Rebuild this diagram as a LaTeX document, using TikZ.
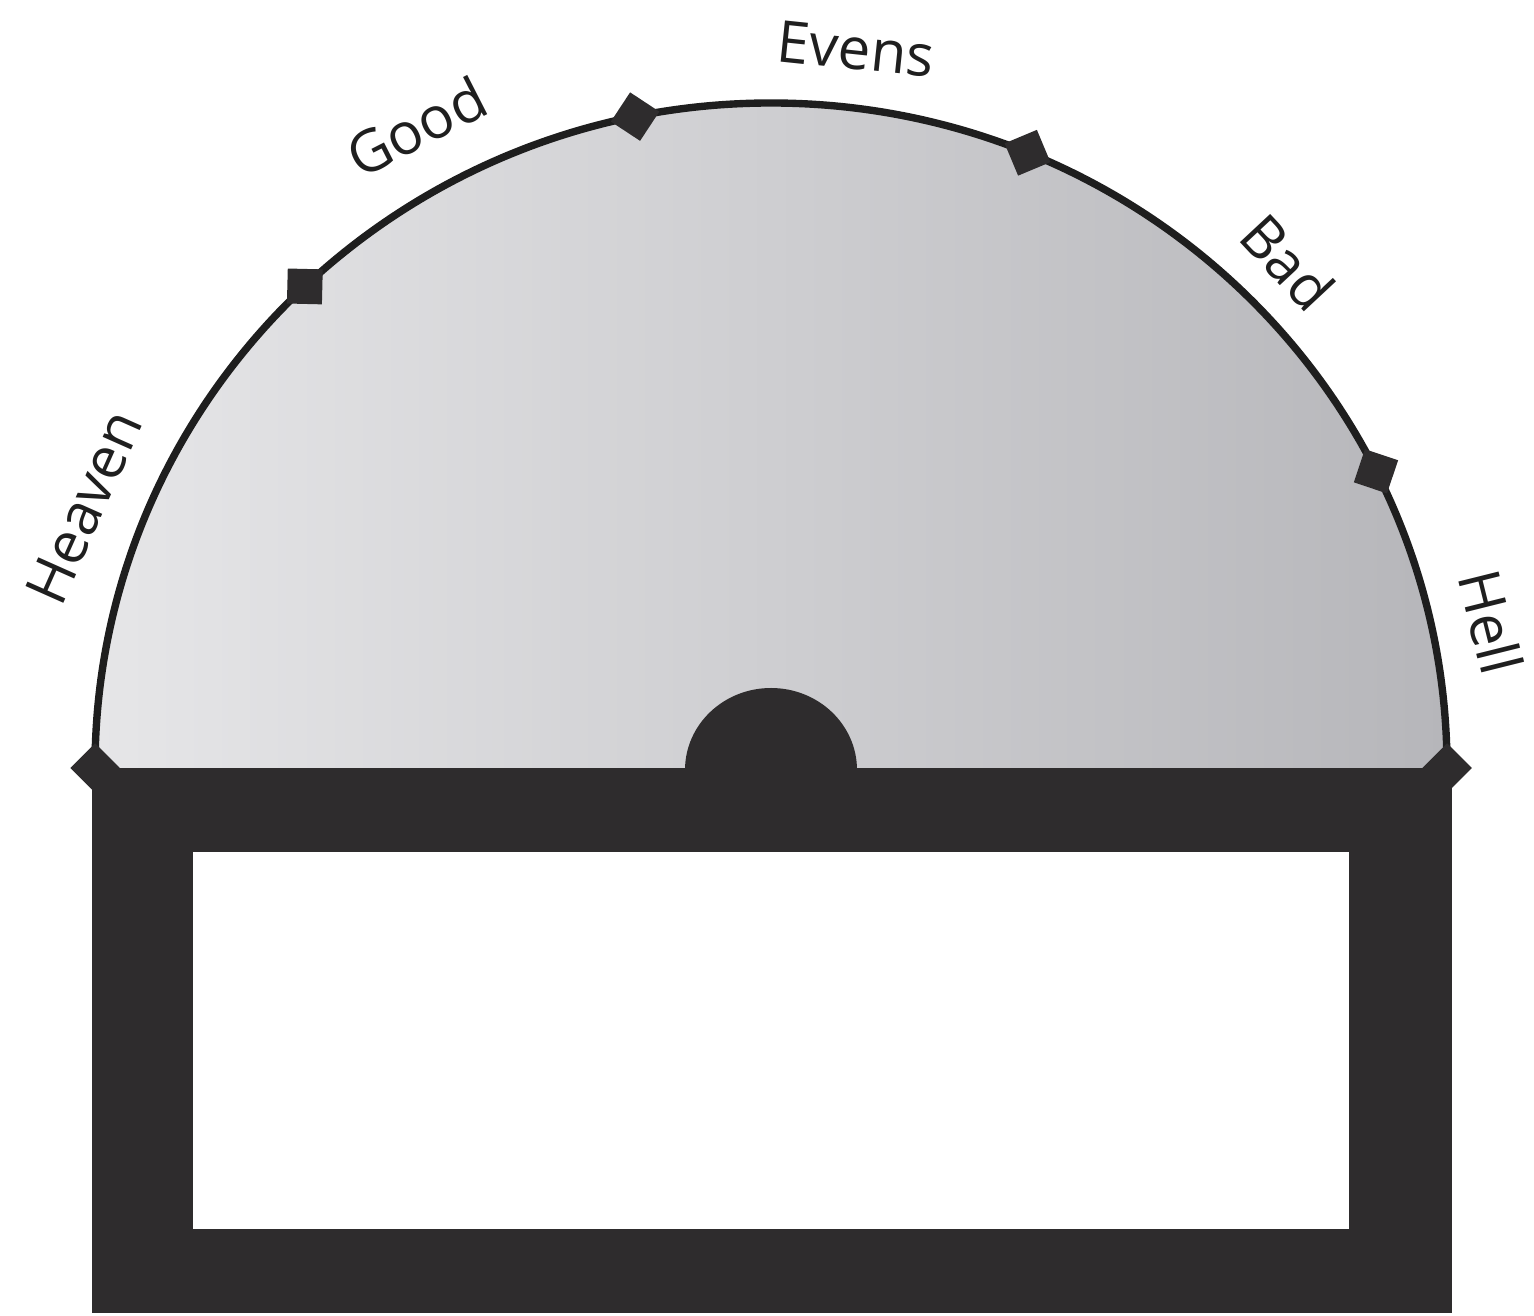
\documentclass[tikz,border=0pt]{standalone}
\usepackage{fontspec}
\newfontfamily\lblfont{Open Sans}
\definecolor{ink}{HTML}{2E2C2D}
\definecolor{arcink}{HTML}{1E1E1E}
\definecolor{fillL}{HTML}{E6E6E8}
\definecolor{fillR}{HTML}{B6B6BA}
\begin{document}
\begin{tikzpicture}[x=0.02cm,y=0.02cm,
  marknode/.style={fill=ink, minimum size=0.7cm, inner sep=0pt, draw=none},
  lbl/.style={font=\lblfont\fontsize{33}{38}\selectfont, text=black!88, inner sep=0pt}]
\useasboundingbox (0,0) rectangle (1534,1315);
\coordinate (C) at (771,547);
% dark frame
\fill[ink] (92,2) rectangle (1452,547);
\fill[white] (193,86) rectangle (1349,463);
% dial face
\shade[left color=fillL,right color=fillR] (95,547) arc[start angle=180,end angle=0,x radius=676,y radius=665] -- cycle;
\draw[arcink, line width=4.2pt] (95,547) arc[start angle=180,end angle=0,x radius=676,y radius=665];
% hub
\fill[ink] (685,545) arc[start angle=180,end angle=0,x radius=86,y radius=82] -- cycle;
% markers
\foreach \t/\n in {180/m1,133.6/m2,101.6/m3,67.7/m4,26.5/m5,0/m6}
  \node[marknode, rotate=\t-45] (\n) at ([shift={(\t:676 and 665)}]C) {};
% labels
\node[lbl, rotate=66] (heaven) at (84,808) {Heaven};
\node[lbl, rotate=27] (good) at (416,1188) {Good};
\node[lbl, rotate=-6] (evens) at (856,1266) {Evens};
\node[lbl, rotate=-47] (bad) at (1288,1053) {Bad};
\node[lbl, rotate=-76] (hell) at (1491,693) {Hell};
\end{tikzpicture}
\end{document}
